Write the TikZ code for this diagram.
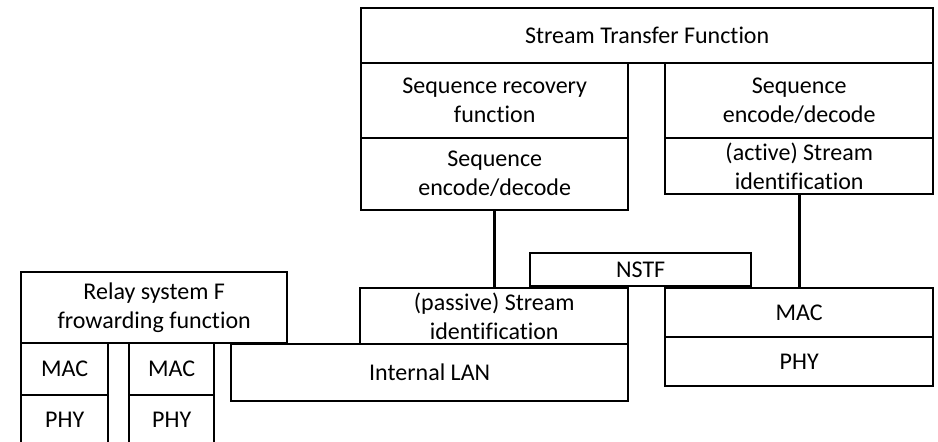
\documentclass[tikz,border=0pt]{standalone}
\usepackage{fontspec}
\setmainfont{Carlito}[Ligatures=NoCommon]
\begin{document}
\begin{tikzpicture}[x=1pt,y=-1pt,
  blk/.style={draw, line width=2.4pt, inner sep=0pt, align=center, anchor=north west,
              font=\fontsize{24}{29}\selectfont},
  link/.style={line width=3.4pt}]
\useasboundingbox (0,0) rectangle (938,442);
\clip (0,0) rectangle (938,442);

% stream transfer function stack
\node[blk, minimum width=572pt, minimum height=55pt] (stf)    at (360,7)   {Stream Transfer Function};
\node[blk, minimum width=267pt, minimum height=75pt] (seqrec) at (360,62)  {Sequence recovery\\function};
\node[blk, minimum width=267pt, minimum height=72pt] (encl)   at (360,137) {Sequence\\encode/decode};
\node[blk, minimum width=268pt, minimum height=75pt] (encr)   at (664,62)  {Sequence\\encode/decode};
\node[blk, minimum width=268pt, minimum height=56pt] (active) at (664,137) {(active) Stream\\identification};

% relay system side
\node[blk, minimum width=266pt, minimum height=71pt] (relay)  at (20,271)  {Relay system F\\frowarding function};
\node[blk, minimum width=87pt,  minimum height=52pt] (mac1)   at (20,342)  {MAC};
\node[blk, minimum width=87pt,  minimum height=58pt, text depth=8pt] (phy1) at (20,394) {PHY};
\node[blk, minimum width=85pt,  minimum height=52pt] (mac2)   at (128,342) {MAC};
\node[blk, minimum width=85pt,  minimum height=58pt, text depth=8pt] (phy2) at (128,394) {PHY};
\node[blk, minimum width=397pt, minimum height=57pt] (lan)    at (230,343) {Internal LAN};
\node[blk, minimum width=268pt, minimum height=56pt] (passive) at (359,287) {(passive) Stream\\identification};

% NSTF and the port
\node[blk, minimum width=221pt, minimum height=33pt] (nstf)   at (529,252) {NSTF};
\node[blk, minimum width=268pt, minimum height=49pt] (macr)   at (664,287) {MAC};
\node[blk, minimum width=268pt, minimum height=49pt] (phyr)   at (664,336) {PHY};

% vertical links
\draw[link] (encl.south) -- (encl.south |- passive.north);
\draw[link] (active.south) -- (macr.north);
\end{tikzpicture}
\end{document}
